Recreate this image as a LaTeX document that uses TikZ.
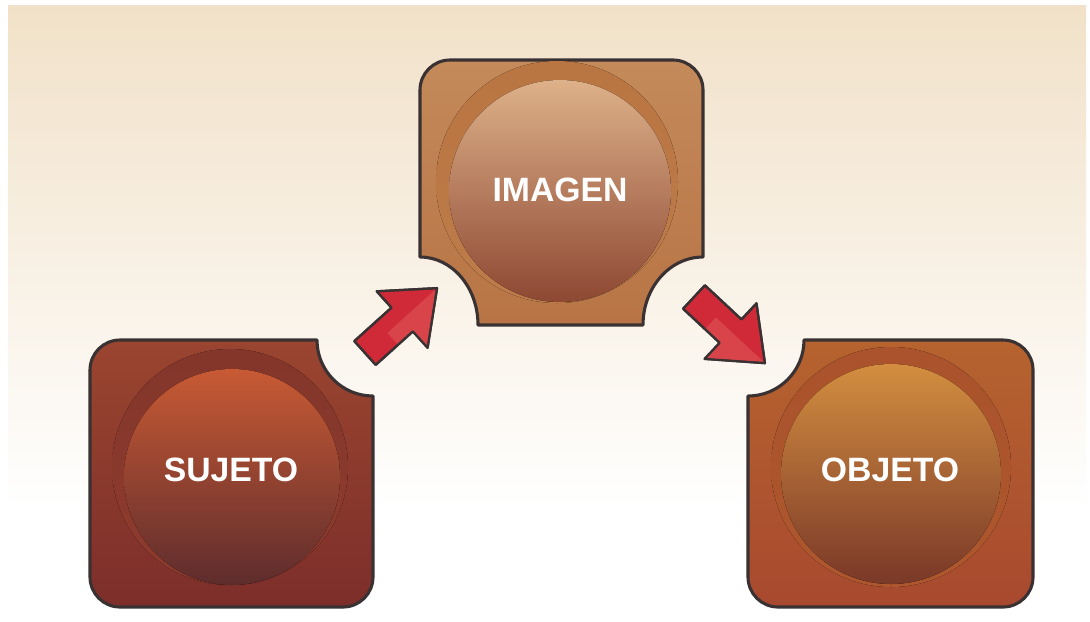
\documentclass[tikz,border=0pt]{standalone}
\usepackage{fontspec}
\setmainfont{Liberation Sans}

\definecolor{bgtan}{HTML}{F1E1C8}
\definecolor{edgegray}{HTML}{3A3232}
\definecolor{arrowred}{HTML}{D02A38}
\definecolor{arrowlight}{HTML}{D8444A}
\definecolor{sujtop}{HTML}{9A4530}
\definecolor{sujbot}{HTML}{7D2E2A}
\definecolor{sujrimtop}{HTML}{84362B}
\definecolor{sujrimbot}{HTML}{8E3B2D}
\definecolor{sujballtop}{HTML}{C85A34}
\definecolor{sujballmid}{HTML}{9E402F}
\definecolor{sujballbot}{HTML}{5E2C2D}
\definecolor{imgtop}{HTML}{C48A5A}
\definecolor{imgbot}{HTML}{B87445}
\definecolor{imgrimtop}{HTML}{B97542}
\definecolor{imgrimbot}{HTML}{BD7C4A}
\definecolor{imgballtop}{HTML}{DDB189}
\definecolor{imgballmid}{HTML}{C08558}
\definecolor{imgballbot}{HTML}{8E4833}
\definecolor{objtop}{HTML}{B6632F}
\definecolor{objbot}{HTML}{A8492F}
\definecolor{objrimtop}{HTML}{AA532C}
\definecolor{objrimbot}{HTML}{AE572E}
\definecolor{objballtop}{HTML}{D38E40}
\definecolor{objballmid}{HTML}{B0622F}
\definecolor{objballbot}{HTML}{7A3828}

\tikzset{
    boxline/.style={draw=edgegray, line width=2.2pt, line join=round},
    word/.style={text=white, font=\bfseries\fontsize{24}{24}\selectfont, inner sep=0pt},
    blockarrow/.style={draw=edgegray, line width=1.6pt, line join=round, fill=arrowred}
}

\begin{document}
\begin{tikzpicture}[x=0.025cm, y=-0.025cm]
    \useasboundingbox (0,0) rectangle (1090,621);
    \fill[white] (0,0) rectangle (1090,621);
    \fill[top color=bgtan, middle color=bgtan!70!white, bottom color=white] (8,5) rectangle (1086,510);

    \draw[boxline, top color=sujtop, bottom color=sujbot]
        (90,370) arc[start angle=180, end angle=270, radius=30]
        -- (317,340) arc[start angle=180, end angle=90, radius=56]
        -- (373,577) arc[start angle=0, end angle=90, radius=30]
        -- (120,607) arc[start angle=90, end angle=180, radius=30] -- cycle;
    \draw[boxline, top color=imgtop, bottom color=imgbot]
        (420,90) arc[start angle=180, end angle=270, radius=30]
        -- (673,60) arc[start angle=270, end angle=360, radius=30]
        -- (703,257) arc[start angle=-90, end angle=-180, x radius=60, y radius=68]
        -- (478,325) arc[start angle=0, end angle=-90, x radius=58, y radius=68] -- cycle;
    \draw[boxline, top color=objtop, bottom color=objbot]
        (748,396) arc[start angle=90, end angle=0, radius=56]
        -- (1003,340) arc[start angle=270, end angle=360, radius=30]
        -- (1033,577) arc[start angle=0, end angle=90, radius=30]
        -- (778,607) arc[start angle=90, end angle=180, radius=30] -- cycle;

    \fill[top color=sujrimtop, bottom color=sujrimbot] (230,467) circle[radius=118];
    \fill[top color=sujballtop, middle color=sujballmid, bottom color=sujballbot] (232,477) circle[radius=108];
    \fill[top color=imgrimtop, bottom color=imgrimbot] (557,182) circle[radius=121];
    \fill[top color=imgballtop, middle color=imgballmid, bottom color=imgballbot] (560,191) circle[radius=111];
    \fill[top color=objrimtop, bottom color=objrimbot] (891,467) circle[radius=120];
    \fill[top color=objballtop, middle color=objballmid, bottom color=objballbot] (891,474) circle[radius=110];

    \node[word] (sujeto) at (231,470) {SUJETO};
    \node[word] (imagen) at (560,190) {IMAGEN};
    \node[word] (objeto) at (890,470) {OBJETO};

    \coordinate (arr1) at (365,353);
    \coordinate (arr2) at (694,297);
    \begin{scope}[shift={(arr1)}, rotate=42]
        \fill[blockarrow] (0,-16) -- (50,-16) -- (50,-38) -- (97,0) -- (50,38) -- (50,16) -- (0,16) -- cycle;
        \fill[arrowlight] (30,0) -- (95,0) -- (50,37) -- (50,15) -- (30,15) -- cycle;
        \draw[blockarrow, fill=none] (0,-16) -- (50,-16) -- (50,-38) -- (97,0) -- (50,38) -- (50,16) -- (0,16) -- cycle;
    \end{scope}
    \begin{scope}[shift={(arr2)}, rotate=-43]
        \fill[blockarrow] (0,-16) -- (50,-16) -- (50,-38) -- (97,0) -- (50,38) -- (50,16) -- (0,16) -- cycle;
        \fill[arrowlight] (30,0) -- (95,0) -- (50,37) -- (50,15) -- (30,15) -- cycle;
        \draw[blockarrow, fill=none] (0,-16) -- (50,-16) -- (50,-38) -- (97,0) -- (50,38) -- (50,16) -- (0,16) -- cycle;
    \end{scope}
\end{tikzpicture}
\end{document}
